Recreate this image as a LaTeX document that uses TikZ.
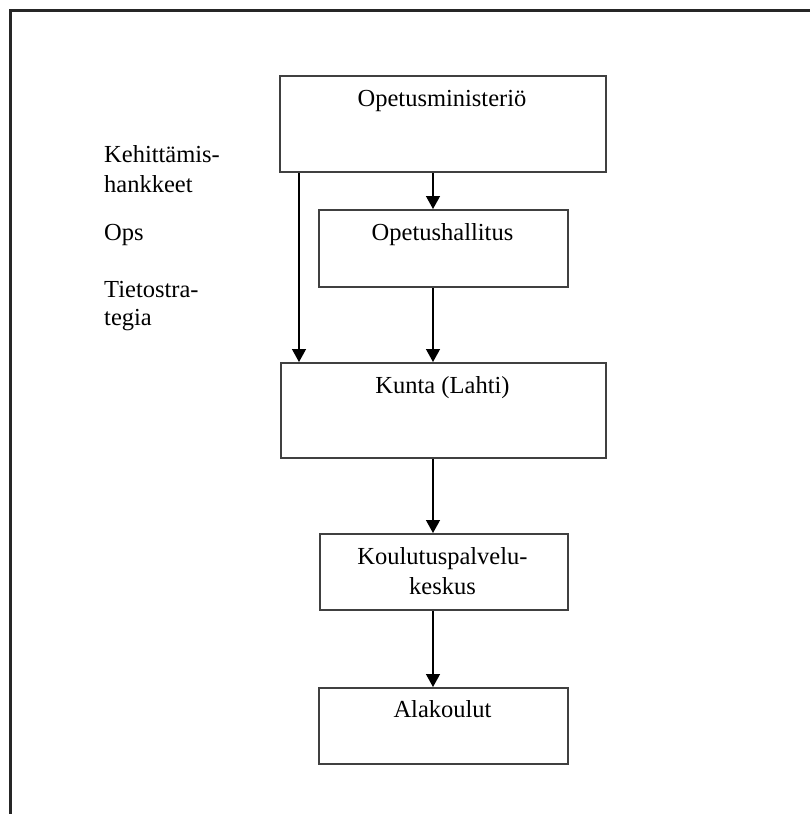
\documentclass[tikz,border=0pt]{standalone}
\usepackage{fontspec}
\setmainfont{Liberation Serif}
\usetikzlibrary{arrows.meta}
\begin{document}
\begin{tikzpicture}[x=1pt,y=-1pt,
  box/.style={draw=black!75, line width=2pt, inner sep=0pt, anchor=north west},
  txt/.style={inner sep=0pt, font=\fontsize{24.5}{30}\selectfont},
  conn/.style={line width=1.4pt, -{Triangle[length=13pt,width=14pt]}}]
\useasboundingbox (0,0) rectangle (810,814);
\fill[white] (0,0) rectangle (810,814);
% frame (top and left edges visible)
\coordinate (fa) at (10.5,814);
\coordinate (fb) at (10.5,10.5);
\coordinate (fc) at (810,10.5);
\draw[line width=2.5pt, black!85] (fa) -- (fb) -- (fc);
% boxes
\node[box, minimum width=326pt, minimum height=96pt] (om) at (279,75) {};
\node[box, minimum width=249pt, minimum height=77pt] (oh) at (318,209) {};
\node[box, minimum width=325pt, minimum height=95pt] (ku) at (280,362) {};
\node[box, minimum width=248pt, minimum height=76pt] (kp) at (319,533) {};
\node[box, minimum width=249pt, minimum height=76pt] (ak) at (318,687) {};
% box texts
\node[txt, anchor=base] (omt) at (442,106) {Opetusministeriö};
\node[txt, anchor=base] (oht) at (442.5,240) {Opetushallitus};
\node[txt, anchor=base] (kut) at (442.5,393) {Kunta (Lahti)};
\node[txt, anchor=base] (kpt1) at (442.5,564) {Koulutuspalvelu-};
\node[txt, anchor=base] (kpt2) at (442.5,594) {keskus};
\node[txt, anchor=base] (akt) at (442.5,717) {Alakoulut};
% side texts
\node[txt, anchor=base west] (s1) at (104,162) {Kehittämis-};
\node[txt, anchor=base west] (s2) at (104,192) {hankkeet};
\node[txt, anchor=base west] (s3) at (104,240) {Ops};
\node[txt, anchor=base west] (s4) at (104,297) {Tietostra-};
\node[txt, anchor=base west] (s5) at (104,325) {tegia};
% arrow columns
\coordinate (ax) at (433,0);
\coordinate (lx) at (299,0);
\draw[conn] (om.south -| ax) -- (oh.north -| ax);
\draw[conn] (oh.south -| ax) -- (ku.north -| ax);
\draw[conn] (om.south -| lx) -- (ku.north -| lx);
\draw[conn] (ku.south -| ax) -- (kp.north -| ax);
\draw[conn] (kp.south -| ax) -- (ak.north -| ax);
\end{tikzpicture}
\end{document}
